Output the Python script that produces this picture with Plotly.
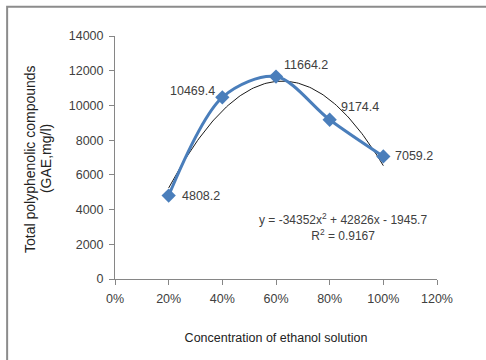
import numpy as np
import plotly.graph_objects as go

# Data
concentration = [0.2, 0.4, 0.6, 0.8, 1.0]
polyphenols = [4808.2, 10469.4, 11664.2, 9174.4, 7059.2]
point_labels = ["4808.2", "10469.4", "11664.2", "9174.4", "7059.2"]
trend_coeffs = [-34352, 42826, -1945.7]
equation_text = "y = -34352x<sup>2</sup> + 42826x - 1945.7<br>R<sup>2</sup> = 0.9167"
x_title = "Concentration of ethanol solution"
y_title_lines = ["Total polyphenolic compounds", "(GAE,mg/l)"]

FONT = "Liberation Sans, Arial"
TXT = "#404040"

fig = go.Figure()

# Polynomial trendline
tx = np.linspace(concentration[0], concentration[-1], 120)
ty = np.polyval(trend_coeffs, tx)
fig.add_trace(go.Scatter(x=tx, y=ty, mode="lines",
                         line=dict(color="#1a1a1a", width=1),
                         hoverinfo="skip", showlegend=False))

# Data series
fig.add_trace(go.Scatter(x=concentration, y=polyphenols, mode="lines+markers",
                         line=dict(color="#4A7EBB", width=3, shape="spline", smoothing=0.9),
                         marker=dict(symbol="diamond", size=11, color="#4A7EBB"),
                         showlegend=False))

# Data labels
shifts = [(32, 0), (-30, 6), (30, 12), (30, 13), (31, 0)]
for xv, yv, lab, (dx, dy) in zip(concentration, polyphenols, point_labels, shifts):
    fig.add_annotation(x=xv, y=yv, xref="x", yref="y", text=lab, showarrow=False,
                       xshift=dx, yshift=dy, font=dict(family=FONT, size=12.5, color=TXT))

# Equation
fig.add_annotation(x=0.708, y=0.214, xref="paper", yref="paper", text=equation_text,
                   showarrow=False, align="center", xanchor="center", yanchor="middle",
                   font=dict(family=FONT, size=12, color=TXT))

# Y-axis title (two rotated lines)
for line, px in zip(y_title_lines, [-0.264, -0.214]):
    fig.add_annotation(x=px, y=0.494, xref="paper", yref="paper", text=line,
                       showarrow=False, textangle=-90, xanchor="center", yanchor="middle",
                       font=dict(family=FONT, size=14, color="#222"))

# Chart border
fig.add_shape(type="rect", xref="paper", yref="paper",
              x0=-0.335, x1=1.2, y0=-0.37, y1=1.12,
              line=dict(color="#8c8c8c", width=2))

axis_common = dict(showgrid=False, zeroline=False, showline=True,
                   linecolor="#868686", linewidth=1, ticks="outside",
                   tickcolor="#868686", ticklen=5, ticklabelstandoff=3,
                   tickfont=dict(family=FONT, size=12.5, color=TXT))

fig.update_xaxes(range=[0, 1.2], dtick=0.2, tickformat=".0%",
                 title=dict(text=x_title, font=dict(family=FONT, size=12.5, color="#222"),
                            standoff=28),
                 **axis_common)
fig.update_yaxes(range=[0, 14000], dtick=2000, tickformat="d", **axis_common)

fig.update_layout(width=486, height=360,
                  margin=dict(l=115, r=49, t=36, b=81),
                  paper_bgcolor="white", plot_bgcolor="white")

fig.write_html("out.html")
